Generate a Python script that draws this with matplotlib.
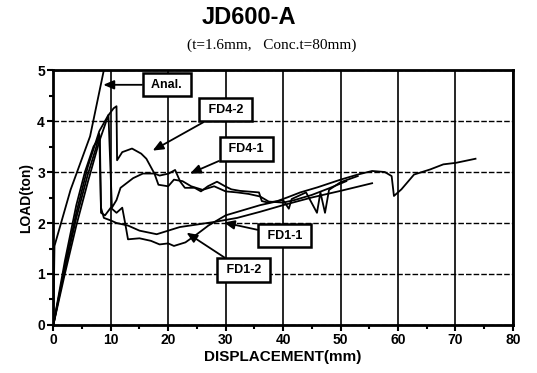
import matplotlib.pyplot as plt
from matplotlib.ticker import MultipleLocator

# Load-displacement data (mm, ton)
anal_x = [0, 0.2, 3, 6.4, 8.8]
anal_y = [0, 1.55, 2.65, 3.7, 5.0]

fd11_x = [0, 2, 4, 6, 7.5, 8.0, 8.3, 8.8, 10, 11, 13, 15, 18, 20, 22, 25, 28,
          32, 36, 40, 45, 50, 55.5]
fd11_y = [0, 1.1, 2.1, 2.95, 3.5, 3.75, 2.3, 2.1, 2.05, 2.0, 1.95, 1.85, 1.78,
          1.85, 1.92, 1.97, 2.02, 2.1, 2.22, 2.35, 2.5, 2.63, 2.78]

fd12_x = [0, 2, 4, 5.5, 7, 8.1, 8.3, 9, 10, 11, 12, 12.5, 13, 15, 17, 18.5, 20,
          21, 23, 25, 27, 30, 33, 36, 40, 41, 41.5, 44, 45.9, 46.5, 47.3, 48,
          50, 53]
fd12_y = [0, 1.25, 2.35, 3.0, 3.5, 3.7, 2.2, 2.15, 2.3, 2.2, 2.3, 2.0, 1.68, 1.7,
          1.65, 1.58, 1.6, 1.55, 1.62, 1.78, 1.95, 2.15, 2.25, 2.35, 2.45, 2.28,
          2.47, 2.6, 2.2, 2.6, 2.2, 2.65, 2.8, 2.92]

fd41_x = [0, 2, 4, 6, 8, 9.6, 9.8, 10.2, 11, 11.7, 13.9, 15.6, 17.6, 18.5,
          20.1, 21.2, 22.1, 22.9, 24.6, 25.7, 26.9, 28.5, 29.9, 31, 32.5, 35.8,
          36.3, 37.4, 39, 40.7, 43, 46, 50, 53, 55.5, 57.7, 58.9, 59.3, 60.6,
          62.8, 65.6, 67.9, 70.1, 73.5]
fd41_y = [0, 1.0, 1.95, 2.8, 3.6, 4.12, 3.5, 2.3, 2.45, 2.69, 2.88, 2.97, 2.97,
          2.93, 2.97, 3.04, 2.81, 2.69, 2.69, 2.62, 2.72, 2.81, 2.72, 2.66,
          2.63, 2.6, 2.43, 2.4, 2.43, 2.5, 2.6, 2.7, 2.85, 2.95, 3.02, 3.0,
          2.92, 2.53, 2.66, 2.95, 3.05, 3.15, 3.18, 3.26]

fd42_x = [0, 2, 4, 6, 8, 9.5, 10.5, 11.0, 11.1, 12, 13.7, 15.3, 16.2, 17.6,
          18.3, 20, 21, 22.5, 24, 26, 28, 30, 32, 34, 36, 37.5, 40, 42, 45,
          48, 51]
fd42_y = [0, 1.15, 2.2, 3.1, 3.8, 4.1, 4.25, 4.29, 3.23, 3.39, 3.46, 3.36,
          3.26, 2.97, 2.75, 2.72, 2.85, 2.82, 2.72, 2.65, 2.72, 2.62, 2.6, 2.57,
          2.52, 2.42, 2.4, 2.45, 2.55, 2.68, 2.82]

# label text, box centre, arrow tip (data coords)
labels = ['Anal.', 'FD4-2', 'FD4-1', 'FD1-1', 'FD1-2']
label_pos = [(19.8, 4.71), (30.0, 4.22), (33.6, 3.45), (40.3, 1.75), (33.1, 1.08)]
arrow_tip = [(8.7, 4.71), (17.3, 3.42), (23.8, 2.97), (29.7, 2.01), (23.2, 1.81)]

plt.rcParams['font.family'] = ['Liberation Sans', 'DejaVu Sans']

fig = plt.figure(figsize=(5.37, 3.73), dpi=100)
ax = fig.add_axes([0.0993, 0.1287, 0.8557, 0.6836])

for xs, ys in [(anal_x, anal_y), (fd11_x, fd11_y), (fd12_x, fd12_y),
               (fd41_x, fd41_y), (fd42_x, fd42_y)]:
    ax.plot(xs, ys, color='black', lw=1.3, clip_on=True)

ax.set_xlim(0, 80)
ax.set_ylim(0, 5)
ax.xaxis.set_major_locator(MultipleLocator(10))
ax.xaxis.set_minor_locator(MultipleLocator(5))
ax.yaxis.set_major_locator(MultipleLocator(1))
ax.yaxis.set_minor_locator(MultipleLocator(0.5))
ax.tick_params(which='both', direction='out', width=1.5, color='black')
ax.tick_params(which='major', length=4, labelsize=10, pad=2)
ax.tick_params(which='minor', length=3)
for lab in ax.get_xticklabels() + ax.get_yticklabels():
    lab.set_fontweight('bold')

ax.grid(True, axis='x', which='major', color='black', lw=1.2)
ax.grid(True, axis='y', which='major', color='black', lw=1.0, ls=(0, (4, 1.5)))
for s in ax.spines.values():
    s.set_linewidth(2)

ax.set_xlabel('DISPLACEMENT(mm)', fontsize=11, fontweight='bold', labelpad=2)
ax.set_ylabel('LOAD(ton)', fontsize=10, fontweight='bold', labelpad=3)

for txt, (lx, ly), (tx, ty) in zip(labels, label_pos, arrow_tip):
    ax.annotate(' ' + txt + ' ', xy=(tx, ty), xytext=(lx, ly), fontsize=9,
                fontweight='bold', ha='center', va='center', zorder=5,
                bbox=dict(boxstyle='square,pad=0.45', fc='white', ec='black', lw=1.8),
                arrowprops=dict(arrowstyle='-|>,head_width=0.3,head_length=0.7',
                                color='black', lw=1.3, shrinkA=0, shrinkB=0))

fig.text(249 / 537, 1 - 18 / 373, 'JD600-A', fontsize=17, fontweight='bold',
         ha='center', va='center')
fig.text(272 / 537, 1 - 45 / 373, '(t=1.6mm,   Conc.t=80mm)', fontsize=11,
         family=['Liberation Serif', 'DejaVu Serif'], ha='center', va='center')

fig.savefig('out.png', dpi=100)
